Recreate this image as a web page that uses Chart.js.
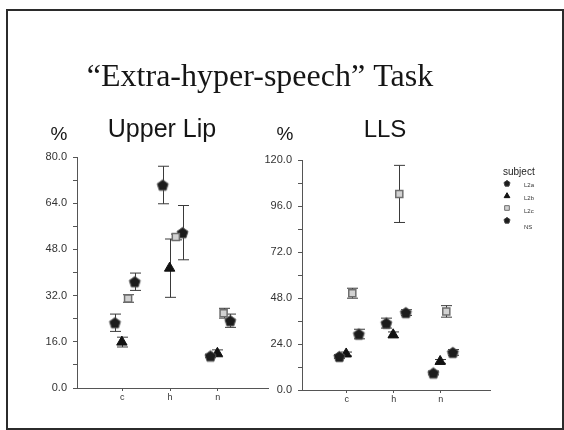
<!DOCTYPE html>
<html><head><meta charset="utf-8">
<script src="https://cdn.jsdelivr.net/npm/chart.js@4.4.1/dist/chart.umd.min.js"></script>
<style>
html,body{margin:0;padding:0;background:#fff;}
#wrap{position:relative;width:564px;height:430px;overflow:hidden;background:#fff;}
#frame{position:absolute;left:6px;top:9px;width:558px;height:421px;border:2px solid #2b2b2b;box-sizing:border-box;}
canvas{position:absolute;left:0;top:0;}
</style></head><body>
<div id="wrap"><div id="frame"></div>
<canvas id="c1" width="564" height="430"></canvas>
<canvas id="c2" width="564" height="430"></canvas></div>
<script>
// ---- data ----
const CATEGORIES = ['c', 'h', 'n'];
const SERIES = ['L2a', 'L2b', 'L2c', 'NS'];

const UL_L2A = [22.6, 70.3, 11.1];
const UL_L2B = [15.9, 41.5, 12.0];
const UL_L2C = [31.0, 52.3, 25.9];
const UL_NS  = [36.8, 53.8, 23.3];
const UL_L2A_ERR = [3.0, 6.5, 0.6];
const UL_L2B_ERR = [1.7, 10.1, 1.2];
const UL_L2C_ERR = [1.3, 1.0, 1.7];
const UL_NS_ERR  = [3.0, 9.4, 2.3];

const LL_L2A = [17.5, 34.9, 8.9];
const LL_L2B = [18.8, 28.8, 14.9];
const LL_L2C = [50.5, 102.3, 41.0];
const LL_NS  = [29.2, 40.4, 19.6];
const LL_L2A_ERR = [1.0, 2.6, 1.0];
const LL_L2B_ERR = [1.0, 1.5, 1.0];
const LL_L2C_ERR = [2.6, 14.9, 3.0];
const LL_NS_ERR  = [2.5, 1.5, 1.5];

const UL_TICKS = [0, 16, 32, 48, 64, 80];
const LL_TICKS = [0, 24, 48, 72, 96, 120];

// ---- styles ----
const SERIES_OFFSET = [-0.155, -0.01, 0.12, 0.26];
const SANS = '"Liberation Sans", Arial, sans-serif';

function makePentagon(r, fill, stroke) {
  const s = Math.ceil(r * 2 + 3);
  const c = document.createElement('canvas');
  c.width = s; c.height = s;
  const g = c.getContext('2d');
  g.beginPath();
  for (let k = 0; k < 5; k++) {
    const a = -Math.PI / 2 + k * 2 * Math.PI / 5;
    const x = s / 2 + r * Math.cos(a), y = s / 2 + 0.6 + r * Math.sin(a);
    k ? g.lineTo(x, y) : g.moveTo(x, y);
  }
  g.closePath();
  g.fillStyle = fill; g.fill();
  g.lineWidth = 1; g.strokeStyle = stroke; g.stroke();
  return c;
}
const PENT = makePentagon(5.8, '#1c1c1c', '#555');
const PENT_SMALL = makePentagon(3.2, '#1c1c1c', '#444');

const STYLES = [
  { pointStyle: PENT, radius: 6, bg: '#1c1c1c', border: '#555', bw: 1 },
  { pointStyle: 'triangle', radius: 6, bg: '#111', border: '#111', bw: 1 },
  { pointStyle: 'rect', radius: 5, bg: '#d2d2d2', border: '#6e6e6e', bw: 1.5 },
  { pointStyle: PENT, radius: 6, bg: '#1c1c1c', border: '#555', bw: 1 },
];

function buildDatasets(values, errors) {
  return values.map((vals, s) => ({
    label: SERIES[s],
    data: vals.map((v, i) => ({ x: i + SERIES_OFFSET[s], y: v })),
    errors: errors[s],
    pointStyle: STYLES[s].pointStyle,
    pointRadius: STYLES[s].radius,
    backgroundColor: STYLES[s].bg,
    borderColor: STYLES[s].border,
    borderWidth: STYLES[s].bw,
    showLine: false,
    clip: false,
  }));
}

const errorBars = {
  id: 'errorBars',
  beforeDatasetsDraw(chart) {
    const ctx = chart.ctx, xs = chart.scales.x, ys = chart.scales.y;
    ctx.save();
    ctx.strokeStyle = '#3a3a3a';
    ctx.lineWidth = 1;
    chart.data.datasets.forEach(ds => {
      ds.data.forEach((p, i) => {
        const e = ds.errors[i];
        const x = Math.round(xs.getPixelForValue(p.x)) + 0.5;
        const yt = ys.getPixelForValue(p.y + e), yb = ys.getPixelForValue(p.y - e);
        ctx.beginPath();
        ctx.moveTo(x, yt); ctx.lineTo(x, yb);
        ctx.moveTo(x - 5.5, yt); ctx.lineTo(x + 5.5, yt);
        ctx.moveTo(x - 5.5, yb); ctx.lineTo(x + 5.5, yb);
        ctx.stroke();
      });
    });
    ctx.restore();
  }
};

function scalesFor(ticksArr, yMax, step) {
  return {
    x: {
      type: 'linear', min: -0.95, max: 3.05,
      afterBuildTicks: sc => { sc.ticks = CATEGORIES.map((c, i) => ({ value: i })); },
      afterFit: sc => { sc.height = 30; },
      ticks: { callback: v => CATEGORIES[v], font: { family: SANS, size: 9 }, color: '#333', padding: 1, maxRotation: 0 },
      grid: { drawOnChartArea: false, drawTicks: true, tickLength: 3, color: '#555' },
      border: { display: true, color: '#555', width: 1 },
    },
    y: {
      min: 0, max: yMax,
      afterBuildTicks: sc => {
        const t = [];
        for (let v = 0; v <= yMax + 1e-9; v += step) t.push({ value: v });
        sc.ticks = t;
      },
      afterFit: sc => { sc.width = 40; },
      ticks: {
        callback: v => (ticksArr.includes(v) ? v.toFixed(1) : ''),
        font: { family: SANS, size: 11 }, color: '#333', padding: 6,
      },
      grid: { drawOnChartArea: false, drawTicks: true, tickLength: 4, color: '#555' },
      border: { display: true, color: '#555', width: 1 },
    },
  };
}

const headings = {
  id: 'headings',
  afterDraw(chart) {
    const ctx = chart.ctx;
    ctx.save();
    ctx.fillStyle = '#151515';
    ctx.textBaseline = 'alphabetic';
    ctx.textAlign = 'center';
    ctx.font = '32px "Liberation Serif", "Times New Roman", serif';
    ctx.fillText('\u201CExtra-hyper-speech\u201D Task', 260, 86);
    ctx.font = '19px ' + SANS;
    ctx.fillText('%', 59, 140);
    ctx.fillText('%', 285, 140);
    ctx.font = '25px ' + SANS;
    ctx.fillText('Upper Lip', 162, 137);
    ctx.font = '24px ' + SANS;
    ctx.fillText('LLS', 385, 137);
    ctx.restore();
  }
};

const legendPlugin = {
  id: 'legendBox',
  afterDraw(chart) {
    const ctx = chart.ctx;
    ctx.save();
    ctx.fillStyle = '#222';
    ctx.textBaseline = 'middle';
    ctx.textAlign = 'left';
    ctx.font = '10px ' + SANS;
    ctx.fillText('subject', 503, 172);
    const my = [183, 196, 208, 220];
    const ly = [185, 198, 211, 227];
    const lstyle = [PENT_SMALL, 'triangle', 'rect', PENT_SMALL];
    SERIES.forEach((name, s) => {
      ctx.fillStyle = STYLES[s].bg;
      ctx.strokeStyle = STYLES[s].border;
      ctx.lineWidth = 1;
      Chart.helpers.drawPoint(ctx, { pointStyle: lstyle[s], radius: 3.3, borderWidth: 1, rotation: 0 }, 507, my[s]);
      ctx.fillStyle = '#333';
      ctx.font = '6px ' + SANS;
      ctx.fillText(name, 524, ly[s]);
    });
    ctx.restore();
  }
};

const common = {
  responsive: false, animation: false, devicePixelRatio: 1,
  plugins: { legend: { display: false }, tooltip: { enabled: false } },
};

new Chart(document.getElementById('c1'), {
  type: 'scatter',
  data: { datasets: buildDatasets([UL_L2A, UL_L2B, UL_L2C, UL_NS], [UL_L2A_ERR, UL_L2B_ERR, UL_L2C_ERR, UL_NS_ERR]) },
  options: Object.assign({}, common, {
    layout: { padding: { left: 37, right: 296, top: 157, bottom: 12 } },
    scales: scalesFor(UL_TICKS, 80, 8),
  }),
  plugins: [errorBars, headings],
});

new Chart(document.getElementById('c2'), {
  type: 'scatter',
  data: { datasets: buildDatasets([LL_L2A, LL_L2B, LL_L2C, LL_NS], [LL_L2A_ERR, LL_L2B_ERR, LL_L2C_ERR, LL_NS_ERR]) },
  options: Object.assign({}, common, {
    layout: { padding: { left: 262, right: 74, top: 160, bottom: 10 } },
    scales: scalesFor(LL_TICKS, 120, 12),
  }),
  plugins: [errorBars, legendPlugin],
});
</script>
</body></html>
